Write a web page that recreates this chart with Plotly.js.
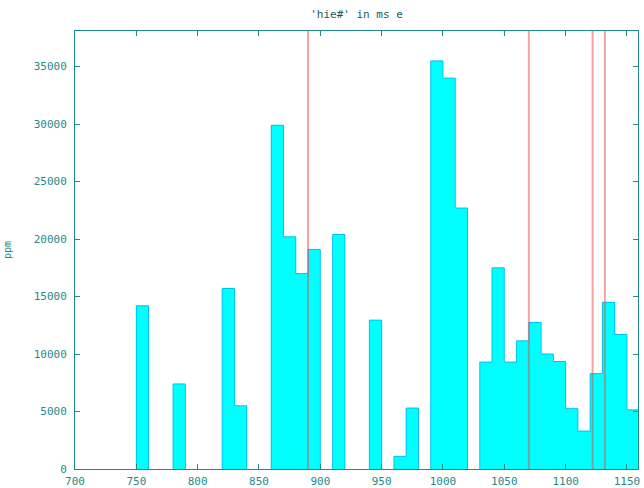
<!DOCTYPE html>
<html>
<head>
<meta charset="utf-8">
<script src="https://cdn.plot.ly/plotly-3.0.1.min.js"></script>
<style>html,body{margin:0;padding:0;background:#fff;}#chart{width:644px;height:488px;}</style>
</head>
<body>
<div id="chart"></div>
<script>
const binStarts = [750, 780, 820, 830, 860, 870, 880, 890, 910, 940, 960, 970, 990, 1000, 1010, 1030, 1040, 1050, 1060, 1070, 1080, 1090, 1100, 1110, 1120, 1130, 1140, 1150];
const ppmValues = [14200, 7400, 15700, 5500, 29900, 20200, 17000, 19100, 20400, 12950, 1100, 5300, 35500, 34000, 22700, 9300, 17500, 9300, 11150, 12750, 10000, 9350, 5250, 3300, 8300, 14500, 11700, 5150];
const binWidth = 10;
const markerLines = [890, 1070, 1122, 1132];
const xTicks = [700, 750, 800, 850, 900, 950, 1000, 1050, 1100, 1150];
const yTicks = [0, 5000, 10000, 15000, 20000, 25000, 30000, 35000];

const teal = '#1f8888';
const font = {family: 'DejaVu Sans Mono, monospace', size: 11, color: teal};

const bars = {
  type: 'bar',
  x: binStarts,
  y: ppmValues,
  width: binStarts.map(() => binWidth),
  offset: 0,
  marker: {color: '#00ffff', line: {width: 0}},
  hoverinfo: 'x+y'
};

// step outline built from the same bins
const ox = [], oy = [];
binStarts.forEach((s, i) => {
  const prevEnd = i > 0 ? binStarts[i - 1] + binWidth : null;
  if (prevEnd === null || prevEnd !== s) {
    if (prevEnd !== null) { ox.push(prevEnd); oy.push(0); ox.push(null); oy.push(null); }
    ox.push(s); oy.push(0);
  }
  ox.push(s); oy.push(ppmValues[i]);
  ox.push(s + binWidth); oy.push(ppmValues[i]);
});
ox.push(binStarts[binStarts.length - 1] + binWidth); oy.push(0);

const outline = {
  type: 'scatter', mode: 'lines', x: ox, y: oy,
  line: {color: '#00c0f0', width: 1}, hoverinfo: 'skip', connectgaps: false
};

const shapes = markerLines.map(v => ({
  type: 'line', xref: 'x', yref: 'paper', x0: v, x1: v, y0: 0, y1: 1,
  line: {color: 'rgba(235,70,70,0.5)', width: 2}, layer: 'above'
}));

const layout = {
  width: 644, height: 488,
  margin: {l: 75, r: 6, t: 31, b: 19},
  paper_bgcolor: '#fff', plot_bgcolor: '#fff',
  showlegend: false,
  bargap: 0,
  title: {text: "'hie#' in ms e", font: {family: 'DejaVu Sans Mono, monospace', size: 11, color: '#1a5a5a'}, x: 0.5, xanchor: 'center', y: 0.972, yanchor: 'middle', xref: 'paper'},
  xaxis: {
    range: [700, 1159], tickvals: xTicks, ticktext: xTicks.map(String),
    ticks: 'inside', ticklen: 5, tickcolor: teal, tickwidth: 1,
    showline: true, linecolor: teal, linewidth: 1, mirror: 'ticks',
    showgrid: false, zeroline: false, tickfont: font, ticklabelstandoff: 2
  },
  yaxis: {
    range: [0, 38100], tickvals: yTicks, ticktext: yTicks.map(String),
    ticks: 'inside', ticklen: 5, tickcolor: teal, tickwidth: 1,
    showline: true, linecolor: teal, linewidth: 1, mirror: 'ticks',
    showgrid: false, zeroline: false, tickfont: font, ticklabelstandoff: 5,
    title: {text: 'ppm', font: {family: 'DejaVu Sans Mono, monospace', size: 10, color: teal}, standoff: 20}
  },
  shapes: shapes
};

Plotly.newPlot('chart', [bars, outline], layout, {displayModeBar: false, staticPlot: true});
</script>
</body>
</html>
